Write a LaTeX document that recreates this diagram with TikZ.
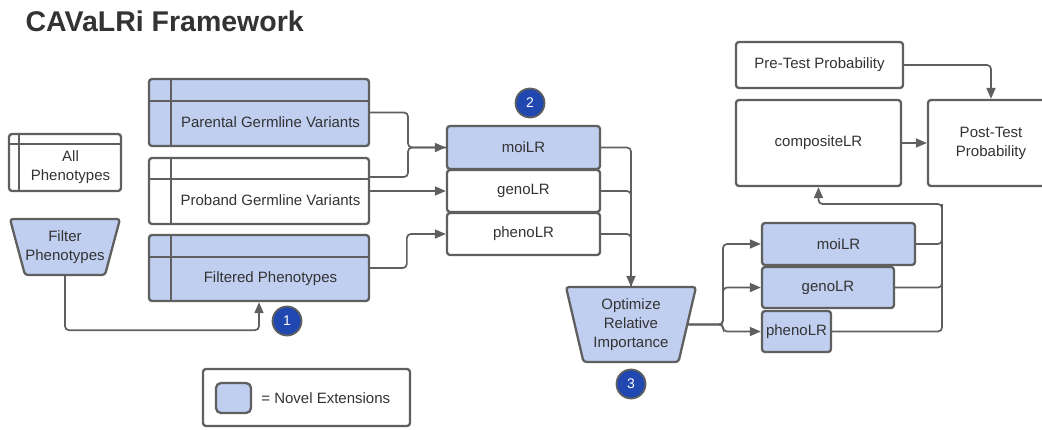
\documentclass[tikz,border=0pt]{standalone}
\usepackage{fontspec}
\setmainfont{Liberation Sans}
\usetikzlibrary{arrows.meta,calc,positioning}
\definecolor{lineg}{HTML}{5F5F5F}
\definecolor{textg}{HTML}{333333}
\definecolor{novel}{HTML}{C0CEF0}
\definecolor{badgeb}{HTML}{2147B0}

\begin{document}
\begin{tikzpicture}[x=1pt, y=-1pt, >={Triangle[length=11pt,width=9pt]},
  box/.style={draw=lineg, line width=2.3pt, rounded corners=3pt, fill=white,
    text=textg, font=\fontsize{15}{19}\selectfont, align=center, inner sep=0pt},
  novelbox/.style={box, fill=novel},
  txt/.style={text=textg, font=\fontsize{15}{19}\selectfont, align=center, inner sep=0pt},
  sep/.style={draw=lineg, line width=2.3pt},
  trapz/.style={draw=lineg, line width=2.3pt, fill=novel, rounded corners=3pt},
  badge/.style={circle, draw=lineg, line width=1.8pt, fill=badgeb, text=white,
    minimum size=29pt, inner sep=0pt, font=\fontsize{14}{14}\selectfont},
  conn/.style={draw=lineg, line width=1.7pt, rounded corners=4pt},
  arr/.style={conn, ->}]
  \useasboundingbox (0,0) rectangle (1042,429);
  % title
  \node[anchor=west, text=textg, font=\fontsize{28.5}{30}\selectfont\bfseries] (title) at (22,21) {CAVaLRi Framework};
  % all phenotypes (table)
  \node[box, minimum width=112pt, minimum height=57pt] (allph) at (65,162.5) {};
  \draw[sep] ($(allph.north west)+(11,0)$) -- ($(allph.south west)+(11,0)$);
  \draw[sep] ($(allph.north west)+(0,11)$) -- ($(allph.north east)+(0,11)$);
  \node[txt] (allph-t) at ($(allph.center)+(5.5,4.5)$) {All\\Phenotypes};
  % filter step
  \def\xF{65}
  \def\yF{247}
  \draw[trapz] (\xF-55,\yF-28) -- (\xF+55,\yF-28) -- (\xF+40,\yF+28) -- (\xF-40,\yF+28) -- cycle;
  \node[txt, minimum width=110pt, minimum height=56pt] (filt) at (\xF,\yF) {Filter\\Phenotypes};
  % parental germline variants
  \node[novelbox, minimum width=220pt, minimum height=67pt] (par) at (259,112.5) {};
  \draw[sep] ($(par.north west)+(23,0)$) -- ($(par.south west)+(23,0)$);
  \draw[sep] ($(par.north west)+(0,23)$) -- ($(par.north east)+(0,23)$);
  \node[txt] (par-t) at ($(par.center)+(11.5,10)$) {Parental Germline Variants};
  % proband germline variants
  \node[box, minimum width=220pt, minimum height=66pt] (prob) at (259,191) {};
  \draw[sep] ($(prob.north west)+(23,0)$) -- ($(prob.south west)+(23,0)$);
  \draw[sep] ($(prob.north west)+(0,22)$) -- ($(prob.north east)+(0,22)$);
  \node[txt] (prob-t) at ($(prob.center)+(11.5,9.5)$) {Proband Germline Variants};
  % filtered phenotypes
  \node[novelbox, minimum width=220pt, minimum height=66pt] (fph) at (259,268) {};
  \draw[sep] ($(fph.north west)+(23,0)$) -- ($(fph.south west)+(23,0)$);
  \draw[sep] ($(fph.north west)+(0,23)$) -- ($(fph.north east)+(0,23)$);
  \node[txt] (fph-t) at ($(fph.center)+(11.5,10.5)$) {Filtered Phenotypes};
  % likelihood ratios
  \node[novelbox, minimum width=153pt, minimum height=43pt] (moi) at (523.5,147.5) {moiLR};
  \node[box, minimum width=153pt, minimum height=42pt] (geno) at (523.5,191) {genoLR};
  \node[box, minimum width=153pt, minimum height=42pt] (pheno) at (523.5,234) {phenoLR};
  % optimize step
  \def\xO{631}
  \def\yO{324.5}
  \draw[trapz] (\xO-65,\yO-37.5) -- (\xO+65,\yO-37.5) -- (\xO+47.5,\yO+37.5) -- (\xO-47.5,\yO+37.5) -- cycle;
  \node[txt, minimum width=130pt, minimum height=75pt] (opt) at (\xO,\yO) {Optimize\\Relative\\Importance};
  % weighted likelihood ratios
  \node[novelbox, minimum width=153pt, minimum height=42pt] (moi2) at (838.5,244) {moiLR};
  \node[novelbox, minimum width=132pt, minimum height=41pt] (geno2) at (828,287.5) {genoLR};
  \node[novelbox, minimum width=69pt, minimum height=41pt] (pheno2) at (796.5,331.5) {phenoLR};
  % probabilities
  \node[box, minimum width=167pt, minimum height=46pt] (pre) at (819.5,65) {Pre-Test Probability};
  \node[box, minimum width=165pt, minimum height=86pt] (comp) at (818.5,143) {compositeLR};
  \node[box, minimum width=126pt, minimum height=86pt] (post) at (991,143) {Post-Test\\Probability};
  % connectors
  \draw[arr] (filt.south) -- ++(0,55) -| (fph.south);
  \coordinate (jin) at (408,147.5);
  \draw[conn] ($(prob.east)+(0,-14)$) -| (jin) -- (moi.west);
  \draw[arr] (par.east) -| (jin) -- (moi.west);
  \draw[arr] (prob.east) -- (geno.west);
  \draw[arr] (fph.east) -| ($(pheno.west)+(-39,0)$) -- (pheno.west);
  \draw[conn] (geno.east) -| (opt.north);
  \draw[conn] (pheno.east) -| (opt.north);
  \draw[arr] (moi.east) -| (opt.north);
  \coordinate (jout) at (723,324.5);
  \draw[arr] ($(opt.east)+(-9,0)$) -- (jout) |- (moi2.west);
  \draw[arr] ($(opt.east)+(-9,0)$) -- (jout) |- (geno2.west);
  \draw[arr] ($(opt.east)+(-9,0)$) -- (jout) |- (pheno2.west);
  \coordinate (jup) at (942,204);
  \draw[conn] (moi2.east) -| (jup);
  \draw[conn] (geno2.east) -| (jup);
  \draw[arr] (pheno2.east) -| (jup) -| (comp.south);
  \draw[arr] (comp.east) -- (post.west);
  \draw[arr] (pre.east) -| (post.north);
  % step markers
  \node[badge] (b1) at (287,321) {1};
  \node[badge] (b2) at (530,103) {2};
  \node[badge] (b3) at (631,384) {3};
  % legend
  \node[box, minimum width=207pt, minimum height=57pt] (leg) at (306.5,397.5) {};
  \node[novelbox, minimum width=35pt, minimum height=30pt, rounded corners=5pt] (sw) at (233.5,398) {};
  \node[txt, right=9pt of sw] (leg-t) {= Novel Extensions};
\end{tikzpicture}
\end{document}
